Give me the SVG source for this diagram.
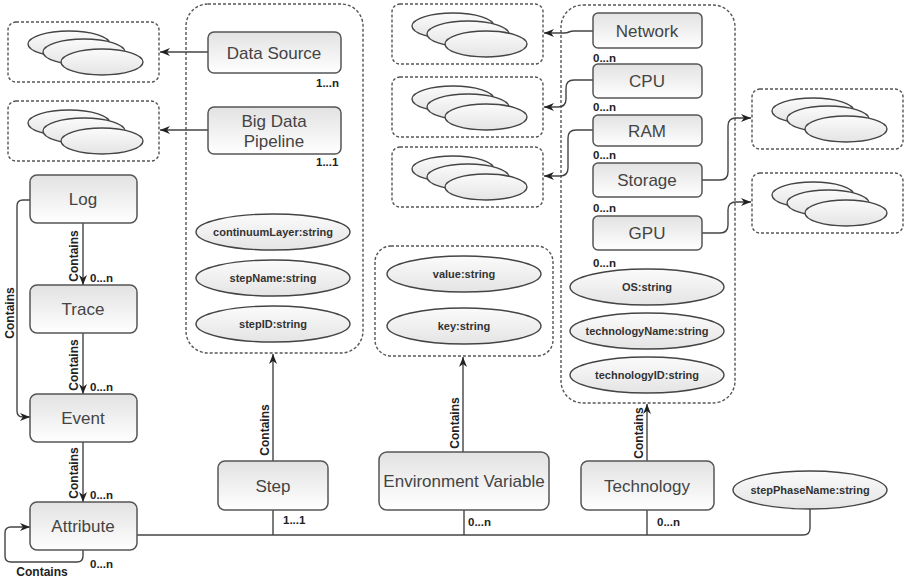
<svg xmlns="http://www.w3.org/2000/svg" width="904" height="578" viewBox="0 0 904 578">
  <style>
    .node rect { fill: url(#nodeFill); stroke: #555; stroke-width: 1.5; }
    .node text { font-family: "Liberation Sans", Arial, sans-serif; font-size: 17px; fill: #444; text-anchor: middle; }
    .attr ellipse { fill: url(#ellFill); stroke: #444; stroke-width: 1.4; }
    .attr text { font-family: "Liberation Sans", Arial, sans-serif; font-size: 11px; font-weight: bold; fill: #333; text-anchor: middle; }
    .dash { fill: none; stroke: #555; stroke-width: 1.4; stroke-dasharray: 3 2; }
    .stack ellipse { fill: url(#ellFill); stroke: #444; stroke-width: 1.4; }
    .edge { fill: none; stroke: #444; stroke-width: 1.4; }
    .lbl { font-family: "Liberation Sans", Arial, sans-serif; font-size: 11.5px; font-weight: bold; fill: #222; }
    .rel { font-family: "Liberation Sans", Arial, sans-serif; font-size: 12px; font-weight: bold; fill: #222; text-anchor: middle; }
  </style>
  <defs>
    <linearGradient id="nodeFill" x1="0" y1="0" x2="0" y2="1">
      <stop offset="0" stop-color="#e2e2e2"/>
      <stop offset="1" stop-color="#ffffff"/>
    </linearGradient>
    <linearGradient id="ellFill" x1="0" y1="0" x2="0" y2="1">
      <stop offset="0" stop-color="#fbfbfb"/>
      <stop offset="1" stop-color="#e4e4e4"/>
    </linearGradient>
    <marker id="arrow" markerUnits="userSpaceOnUse" markerWidth="12" markerHeight="10" refX="11" refY="5" orient="auto">
      <path d="M1,1 L11,5 L1,9 L4,5 z" fill="#222"/>
    </marker>
    <!-- collapsed attribute stack: dashed frame with three overlapping ellipses -->
    <g id="stack" class="stack">
      <rect class="dash" x="0" y="0" width="151" height="60" rx="8"/>
      <ellipse cx="61" cy="22" rx="41" ry="13"/>
      <ellipse cx="76" cy="30" rx="41" ry="13"/>
      <ellipse cx="94" cy="40" rx="41" ry="13"/>
    </g>
  </defs>

  <rect width="904" height="578" fill="#ffffff"/>

  <!-- dashed containers -->
  <g id="step-attrs">
    <rect class="dash" x="186" y="4" width="177" height="349" rx="22"/>
  </g>
  <g id="env-attrs">
    <rect class="dash" x="375" y="246" width="178" height="110" rx="16"/>
  </g>
  <g id="tech-attrs">
    <rect class="dash" x="561" y="5" width="174" height="398" rx="22"/>
  </g>

  <!-- collapsed stacks -->
  <g id="stack-datasource"><use href="#stack" x="8" y="22"/></g>
  <g id="stack-pipeline"><use href="#stack" x="8" y="101"/></g>
  <g id="stack-network"><use href="#stack" x="392" y="4"/></g>
  <g id="stack-cpu"><use href="#stack" x="392" y="77"/></g>
  <g id="stack-ram"><use href="#stack" x="392" y="147"/></g>
  <g id="stack-storage"><use href="#stack" x="752" y="89"/></g>
  <g id="stack-gpu"><use href="#stack" x="752" y="173"/></g>

  <!-- connectors -->
  <g id="connectors">
    <path class="edge" d="M208,52 H160" marker-end="url(#arrow)"/>
    <path class="edge" d="M208,130 H160" marker-end="url(#arrow)"/>
    <path class="edge" d="M593,31 H574 C568,31 570,33 564,33 H544" marker-end="url(#arrow)"/>
    <path class="edge" d="M593,80 H574 Q566,80 566,88 V99 Q566,107 558,107 H544" marker-end="url(#arrow)"/>
    <path class="edge" d="M593,130 H576 Q568,130 568,138 V168 Q568,176 560,176 H544" marker-end="url(#arrow)"/>
    <path class="edge" d="M702,180 H720 Q728,180 728,172 V126 Q728,118 736,118 H751" marker-end="url(#arrow)"/>
    <path class="edge" d="M702,233 H720 Q728,233 728,225 V210 Q728,202 736,202 H751" marker-end="url(#arrow)"/>

    <path class="edge" d="M83,223 V285" marker-end="url(#arrow)"/>
    <path class="edge" d="M83,333 V394" marker-end="url(#arrow)"/>
    <path class="edge" d="M83,442 V502" marker-end="url(#arrow)"/>
    <path class="edge" d="M30,200 H23 Q17,200 17,206 V411 Q17,417 23,417 H30" marker-end="url(#arrow)"/>
    <path class="edge" d="M83,550 V556 Q83,562 77,562 H11 Q5,562 5,556 V533 Q5,527 11,527 H30" marker-end="url(#arrow)"/>

    <path class="edge" d="M137,535 H803 Q810,535 810,528 V509"/>
    <path class="edge" d="M273,510 V535"/>
    <path class="edge" d="M464,510 V535"/>
    <path class="edge" d="M647,510 V535"/>

    <path class="edge" d="M273,461 V354" marker-end="url(#arrow)"/>
    <path class="edge" d="M463,452 V357" marker-end="url(#arrow)"/>
    <path class="edge" d="M647,461 V404" marker-end="url(#arrow)"/>

    <!-- relation names -->
    <text class="rel" transform="translate(78,256) rotate(-90)">Contains</text>
    <text class="rel" transform="translate(78,365) rotate(-90)">Contains</text>
    <text class="rel" transform="translate(78,473) rotate(-90)">Contains</text>
    <text class="rel" transform="translate(14,313) rotate(-90)">Contains</text>
    <text class="rel" x="42" y="576">Contains</text>
    <text class="rel" transform="translate(269,430) rotate(-90)">Contains</text>
    <text class="rel" transform="translate(459,423) rotate(-90)">Contains</text>
    <text class="rel" transform="translate(643,433) rotate(-90)">Contains</text>

    <!-- multiplicities -->
    <text class="lbl" x="316" y="87">1...n</text>
    <text class="lbl" x="316" y="166">1...1</text>
    <text class="lbl" x="593" y="62">0...n</text>
    <text class="lbl" x="593" y="111">0...n</text>
    <text class="lbl" x="593" y="159">0...n</text>
    <text class="lbl" x="593" y="212">0...n</text>
    <text class="lbl" x="593" y="267">0...n</text>
    <text class="lbl" x="90" y="282">0...n</text>
    <text class="lbl" x="90" y="391">0...n</text>
    <text class="lbl" x="90" y="499">0...n</text>
    <text class="lbl" x="90" y="568">0...n</text>
    <text class="lbl" x="283" y="524">1...1</text>
    <text class="lbl" x="468" y="526">0...n</text>
    <text class="lbl" x="657" y="526">0...n</text>
  </g>

  <!-- step nodes -->
  <g id="data-source" class="node">
    <rect x="208" y="32" width="133" height="41" rx="6"/>
    <text x="274" y="59">Data Source</text>
  </g>
  <g id="big-data-pipeline" class="node">
    <rect x="208" y="107" width="133" height="47" rx="6"/>
    <text x="274" y="127">Big Data</text>
    <text x="274" y="147">Pipeline</text>
  </g>
  <g id="continuum-layer" class="attr">
    <ellipse cx="273" cy="232" rx="77" ry="18"/>
    <text x="273" y="236">continuumLayer:string</text>
  </g>
  <g id="step-name" class="attr">
    <ellipse cx="273" cy="278" rx="77" ry="18"/>
    <text x="273" y="282">stepName:string</text>
  </g>
  <g id="step-id" class="attr">
    <ellipse cx="273" cy="324" rx="77" ry="18"/>
    <text x="273" y="328">stepID:string</text>
  </g>

  <!-- environment variable attributes -->
  <g id="value" class="attr">
    <ellipse cx="464" cy="274" rx="77" ry="18"/>
    <text x="464" y="278">value:string</text>
  </g>
  <g id="key" class="attr">
    <ellipse cx="464" cy="326" rx="77" ry="18"/>
    <text x="464" y="330">key:string</text>
  </g>

  <!-- technology nodes -->
  <g id="network" class="node">
    <rect x="593" y="13" width="109" height="35" rx="5"/>
    <text x="647" y="37">Network</text>
  </g>
  <g id="cpu" class="node">
    <rect x="593" y="64" width="109" height="34" rx="5"/>
    <text x="647" y="87">CPU</text>
  </g>
  <g id="ram" class="node">
    <rect x="593" y="115" width="109" height="31" rx="5"/>
    <text x="647" y="137">RAM</text>
  </g>
  <g id="storage" class="node">
    <rect x="593" y="163" width="109" height="34" rx="5"/>
    <text x="647" y="186">Storage</text>
  </g>
  <g id="gpu" class="node">
    <rect x="593" y="216" width="109" height="34" rx="5"/>
    <text x="647" y="239">GPU</text>
  </g>
  <g id="os" class="attr">
    <ellipse cx="647" cy="287" rx="77" ry="18"/>
    <text x="647" y="291">OS:string</text>
  </g>
  <g id="technology-name" class="attr">
    <ellipse cx="647" cy="331" rx="77" ry="18"/>
    <text x="647" y="335">technologyName:string</text>
  </g>
  <g id="technology-id" class="attr">
    <ellipse cx="647" cy="375" rx="77" ry="18"/>
    <text x="647" y="379">technologyID:string</text>
  </g>

  <!-- log hierarchy -->
  <g id="log" class="node">
    <rect x="30" y="175" width="107" height="48" rx="7"/>
    <text x="83" y="205">Log</text>
  </g>
  <g id="trace" class="node">
    <rect x="30" y="285" width="107" height="48" rx="7"/>
    <text x="83" y="315">Trace</text>
  </g>
  <g id="event" class="node">
    <rect x="30" y="394" width="107" height="48" rx="7"/>
    <text x="83" y="424">Event</text>
  </g>
  <g id="attribute" class="node">
    <rect x="30" y="502" width="107" height="48" rx="7"/>
    <text x="83" y="532">Attribute</text>
  </g>

  <!-- bottom row -->
  <g id="step" class="node">
    <rect x="218" y="461" width="110" height="49" rx="7"/>
    <text x="273" y="492">Step</text>
  </g>
  <g id="environment-variable" class="node">
    <rect x="379" y="452" width="170" height="58" rx="8"/>
    <text x="464" y="487">Environment Variable</text>
  </g>
  <g id="technology" class="node">
    <rect x="581" y="461" width="133" height="49" rx="7"/>
    <text x="647" y="492">Technology</text>
  </g>
  <g id="step-phase-name" class="attr">
    <ellipse cx="810" cy="490" rx="77" ry="19"/>
    <text x="810" y="494">stepPhaseName:string</text>
  </g>
</svg>
